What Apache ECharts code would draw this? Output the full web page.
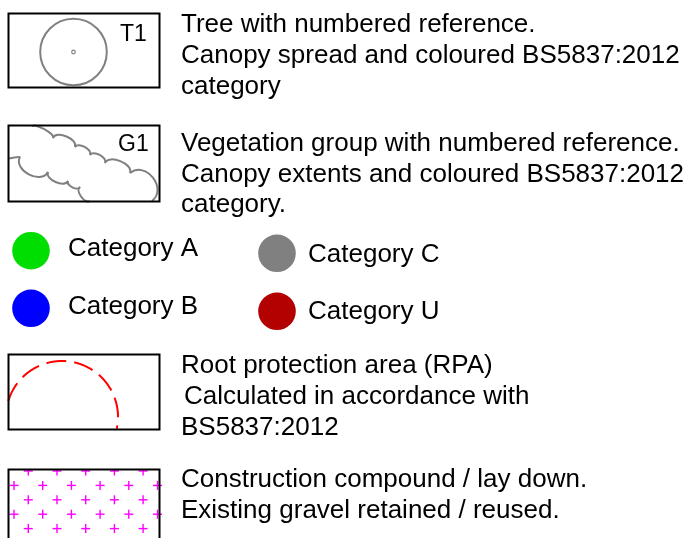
<!DOCTYPE html>
<html>
<head>
<meta charset="utf-8">
<script src="https://cdn.jsdelivr.net/npm/echarts@6/dist/echarts.min.js"></script>
<style>html,body{margin:0;padding:0;background:#fff}#c{width:692px;height:538px}</style>
</head>
<body>
<div id="c"></div>
<script>
// ---- data ----
var treeText = ['Tree with numbered reference.', 'Canopy spread and coloured BS5837:2012', 'category'];
var groupText = ['Vegetation group with numbered reference.', 'Canopy extents and coloured BS5837:2012', 'category.'];
var categoryNames = ['Category A', 'Category B', 'Category C', 'Category U'];
var categoryColors = ['#00dd00', '#0000ff', '#808080', '#b30000'];
var rpaText = ['Root protection area (RPA)', 'Calculated in accordance with', 'BS5837:2012'];
var compoundText = ['Construction compound / lay down.', 'Existing gravel retained / reused.'];
var treeRef = 'T1';
var groupRef = 'G1';

// ---- drawing ----
var FONT = '"Liberation Sans", Arial, sans-serif';
var g = [];
function txt(s, x, baseline, size) {
  g.push({type: 'text', z: 10, style: {text: s, x: x, y: baseline - size * 0.31, font: size + 'px ' + FONT, fill: '#000', align: 'left', verticalAlign: 'middle'}});
}
function box(x1, y1, x2, y2) {
  g.push({type: 'rect', z: 5, shape: {x: x1, y: y1, width: x2 - x1, height: y2 - y1}, style: {fill: 'none', stroke: '#000', lineWidth: 2}});
}
// Box 1: tree
box(8.5, 13.5, 159.5, 87.5);
g.push({type: 'circle', shape: {cx: 73.5, cy: 52, r: 33.3}, style: {fill: 'none', stroke: '#808080', lineWidth: 2}});
g.push({type: 'circle', shape: {cx: 73.5, cy: 52, r: 1.8}, style: {fill: 'none', stroke: '#808080', lineWidth: 1.2}});
txt(treeRef, 120, 41.5, 23);
// Box 2: group cloud
box(8.5, 125.5, 159.5, 201.5);
function scallops(pts, side, ks) {
  for (var i = 1; i < pts.length; i++) {
    var p = pts[i - 1], q = pts[i];
    var dx = q[0] - p[0], dy = q[1] - p[1];
    var len = Math.sqrt(dx * dx + dy * dy);
    var nx, ny;
    if (side > 0) { nx = dy / len; ny = -dx / len; } else { nx = -dy / len; ny = dx / len; }
    var h = (len / 2) * (4 / 3) * ks[i - 1];
    g.push({type: 'bezierCurve', shape: {x1: p[0], y1: p[1], cpx1: p[0] + nx * h, cpy1: p[1] + ny * h, cpx2: q[0] + nx * h, cpy2: q[1] + ny * h, x2: q[0], y2: q[1]}, style: {fill: 'none', stroke: '#808080', lineWidth: 2}});
  }
}
var upper = [[32, 126.5], [53, 138], [75, 147], [90, 155], [105, 163], [130, 173], [152, 201]];
var lower = [[8.5, 159], [20, 157], [48, 172], [68, 181], [80, 187], [90, 201]];
scallops(upper, 1, [0.3, 0.55, 0.55, 0.55, 0.55, 0.85]);
scallops(lower, -1, [-0.1, 0.7, 0.55, 0.55, 0.55]);
txt(groupRef, 118, 152, 23);
// Text blocks
var lh = 30.7;
treeText.forEach(function (s, i) { txt(s, 181, 33.3 + i * lh, 26); });
groupText.forEach(function (s, i) { txt(s, 181, 151.7 + i * lh, 26); });
// Category markers
var catPos = [[31, 250.7, 68, 257], [31, 308.3, 68, 315], [277, 253.3, 308, 263], [277, 311.3, 308, 320]];
categoryNames.forEach(function (n, i) {
  var p = catPos[i];
  g.push({type: 'circle', shape: {cx: p[0], cy: p[1], r: 18.8}, style: {fill: categoryColors[i]}});
  txt(n, p[2], p[3], 26);
});
// Box 3: RPA
box(8.5, 354.5, 159.5, 429.5);
var arcPts = [];
for (var a = Math.PI + 0.29; a <= 2 * Math.PI + 0.216; a += 0.01) {
  arcPts.push([62 + 56 * Math.cos(a), 417 + 56 * Math.sin(a)]);
}
g.push({type: 'polyline', shape: {points: arcPts}, style: {fill: 'none', stroke: '#ff0000', lineWidth: 2, lineDash: [20, 8]}});
var rpaX = [181, 184, 181];
rpaText.forEach(function (s, i) { txt(s, rpaX[i], 374 + i * 31, 26); });
// Box 4: compound
var top4 = 469.5;
for (var r = 0; r < 5; r++) {
  var cy = 471 + r * 14.4;
  var xs = (r % 2 === 0) ? [28.3, 57, 85.7, 114.4, 143.1] : [14, 42.7, 71.4, 100.1, 128.8, 157.5];
  xs.forEach(function (cx) {
    g.push({type: 'line', shape: {x1: cx - 4.5, y1: cy, x2: cx + 4.5, y2: cy}, style: {stroke: '#ff00ff', lineWidth: 1.4}});
    g.push({type: 'line', shape: {x1: cx, y1: Math.max(cy - 4.5, top4), x2: cx, y2: cy + 4.5}, style: {stroke: '#ff00ff', lineWidth: 1.4}});
  });
}
g.push({type: 'polyline', z: 5, shape: {points: [[8.5, 545], [8.5, top4], [159.5, top4], [159.5, 545]]}, style: {fill: 'none', stroke: '#000', lineWidth: 2}});
compoundText.forEach(function (s, i) { txt(s, 181, 488 + i * 31.3, 26); });

var chart = echarts.init(document.getElementById('c'), null, {renderer: 'canvas'});
chart.setOption({backgroundColor: '#fff', animation: false, graphic: g});
</script>
</body>
</html>
